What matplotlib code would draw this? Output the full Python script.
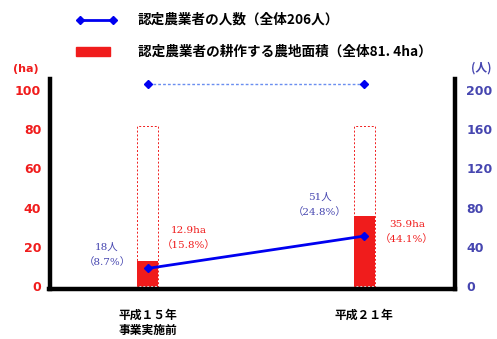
import matplotlib
matplotlib.use("Agg")
import matplotlib.pyplot as plt
from matplotlib.patches import Rectangle

plt.rcParams['font.family'] = ['Noto Sans CJK JP', 'DejaVu Sans']

categories = ["平成１５年\n事業実施前", "平成２１年"]
area_ha = [12.9, 35.9]
area_total = 81.4
persons = [18, 51]
persons_total = 206
area_labels = ["12.9ha\n（15.8%）", "35.9ha\n（44.1%）"]
person_labels = ["18人\n（8.7%）", "51人\n（24.8%）"]
left_ticks = [0, 20, 40, 60, 80, 100]
right_ticks = [0, 40, 80, 120, 160, 200]

RED = "#f01c1c"
BLUE = "#0000f0"
LBLUE = "#4646b0"

W, H = 497, 339
fig = plt.figure(figsize=(W/100, H/100), dpi=100)
ax = fig.add_axes([49.5/W, 1-289/H, (455-49.5)/W, (289-79)/H])
ax2 = ax.twinx()

x = list(range(len(categories)))
bw = 0.097
ax.bar(x, area_ha, width=bw, color=RED, zorder=2)
for xi in x:
    ax.add_patch(Rectangle((xi-bw/2, 0), bw, area_total, fill=False,
                           edgecolor=RED, linestyle=(0, (2, 2)), linewidth=0.7, zorder=1))
ax.set_xlim(-0.453, 1.419)
ax.set_ylim(-1.5, 105.6)
ax2.set_ylim(-3, 211.2)

ax2.plot(x, persons, color=BLUE, linewidth=2, marker='D', markersize=4, zorder=3)
ax2.plot(x, [persons_total]*len(x), color="#6a8ef0", linestyle=(0, (2, 1.5)), linewidth=1.0,
         marker='D', markersize=4, markerfacecolor=BLUE, markeredgecolor=BLUE)

for a in (ax, ax2):
    for s in a.spines.values():
        s.set_visible(False)
ax.spines['left'].set_visible(True)
ax.spines['bottom'].set_visible(True)
ax2.spines['right'].set_visible(True)
for s in ('left', 'bottom'):
    ax.spines[s].set_linewidth(3.2)
ax2.spines['right'].set_linewidth(3.2)

ax.set_yticks(left_ticks)
ax.set_yticklabels([str(t) for t in left_ticks], color=RED, fontsize=9,
                   fontweight='bold', family=['DejaVu Sans'])
ax.tick_params(axis='y', length=0, pad=6)
ax2.set_yticks(right_ticks)
ax2.set_yticklabels([str(t) for t in right_ticks], color=LBLUE, fontsize=9,
                    fontweight='bold', family=['DejaVu Sans'])
ax2.tick_params(axis='y', length=0, pad=8)
ax.set_xticks(x)
ax.set_xticklabels(categories, fontsize=8.5, fontweight='bold', linespacing=1.25)
ax.tick_params(axis='x', length=0, pad=14)

fig.text(26/W, 1-69/H, "(ha)", color=RED, fontsize=8, fontweight='bold',
         family=['DejaVu Sans'], ha='center', va='center')
fig.text(481/W, 1-68/H, "(人)", color=LBLUE, fontsize=8.5, fontweight='bold',
         ha='center', va='center')

serif = ['DejaVu Serif', 'Noto Sans CJK JP']
pos_person = [(107, 255), (320, 205)]
pos_area = [(189, 238), (407, 232)]
for (px, py), t in zip(pos_person, person_labels):
    fig.text(px/W, 1-py/H, t, color=LBLUE, fontsize=7.5, family=serif,
             ha='center', va='center', linespacing=1.6)
for (px, py), t in zip(pos_area, area_labels):
    fig.text(px/W, 1-py/H, t, color=RED, fontsize=7.5, family=serif,
             ha='center', va='center', linespacing=1.6)

# legend
fig.lines.append(plt.Line2D([80/W, 113/W], [1-20/H]*2, transform=fig.transFigure,
                            color=BLUE, linewidth=2, marker='D', markersize=4))
fig.patches.append(Rectangle((76/W, 1-56/H), 34/W, 9/H, transform=fig.transFigure,
                             color=RED))
fig.text(138/W, 1-20/H, "認定農業者の人数（全体206人）", fontsize=9.8, fontweight='bold',
         ha='left', va='center')
fig.text(138/W, 1-52/H, "認定農業者の耕作する農地面積（全体81. 4ha）", fontsize=9.8,
         fontweight='bold', ha='left', va='center')

fig.savefig("out.png", dpi=100)
